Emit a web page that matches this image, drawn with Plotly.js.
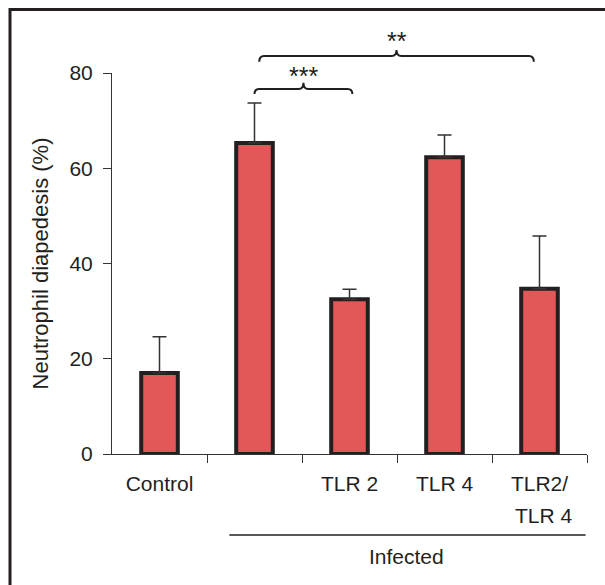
<!DOCTYPE html>
<html>
<head>
<meta charset="utf-8">
<script src="https://cdn.plot.ly/plotly-3.0.1.min.js"></script>
<style>html,body{margin:0;padding:0;background:#fff;}</style>
</head>
<body>
<div id="chart" style="width:605px;height:585px;"></div>
<script>
// ---- data ----
var categories = [0, 1, 2, 3, 4];
var tickLabels = ["Control", "", "TLR 2", "TLR 4", "TLR2/"];
var secondLineLabels = ["", "", "", "", "TLR 4"];
var diapedesis = [17.0, 65.3, 32.5, 62.3, 34.7];
var errorUp = [7.6, 8.4, 2.1, 4.7, 11.1];
var boundaryTicks = [0.5, 1.5, 2.5, 3.5, 4.5];
var yTicks = [0, 20, 40, 60, 80];
var groupLabel = "Infected";
var sigLabels = ["***", "**"];
var sigPairs = [[1, 2.03], [1.05, 3.94]];

var FONT = "Liberation Sans, Arial, Helvetica, sans-serif";
var DARK = "#231f20";
var FS = 21;

var trace = {
  type: "bar",
  x: categories,
  y: diapedesis,
  width: 0.385,
  marker: {color: "#e25858", line: {color: DARK, width: 4}},
  error_y: {type: "data", symmetric: false, array: errorUp,
            arrayminus: errorUp.map(function(){return 0;}),
            color: "#333333", thickness: 1.5, width: 7},
  hoverinfo: "none"
};

// paper y for pixel helpers (plot area top 73, bottom 454)
function py(p){ return (454 - p) / 381; }

function bracket(x0, x1, yh, ye, yp){
  var xm = (x0 + x1) / 2, d = 0.05;
  return "M" + x0 + "," + ye +
    " Q" + x0 + "," + yh + " " + (x0 + d) + "," + yh +
    " L" + (xm - d) + "," + yh +
    " Q" + xm + "," + yh + " " + xm + "," + yp +
    " Q" + xm + "," + yh + " " + (xm + d) + "," + yh +
    " L" + (x1 - d) + "," + yh +
    " Q" + x1 + "," + yh + " " + x1 + "," + ye;
}

var bracketY = [[89, 94, 82.7, 76], [56, 61.7, 50, 41]];

var shapes = [
  {type: "rect", xref: "paper", yref: "paper", x0: (10 - 112) / 475, x1: 1.2,
   y0: -0.6, y1: py(9.5), line: {color: DARK, width: 3}},
  {type: "line", xref: "paper", yref: "paper", x0: 0.247, x1: 0.997,
   y0: py(535), y1: py(535), line: {color: DARK, width: 1.3}}
];
var annotations = [];
sigPairs.forEach(function(p, i){
  var b = bracketY[i];
  shapes.push({type: "path", xref: "x", yref: "paper",
    path: bracket(p[0], p[1], py(b[0]), py(b[1]), py(b[2])),
    line: {color: DARK, width: 2}});
  annotations.push({xref: "x", yref: "paper", x: (p[0] + p[1]) / 2, y: py(b[3]),
    text: sigLabels[i], showarrow: false, yanchor: "middle",
    font: {family: FONT, size: 25, color: DARK}});
});
secondLineLabels.forEach(function(t, i){
  if (!t) return;
  annotations.push({xref: "x", yref: "paper", x: categories[i], y: py(515),
    xshift: 4, text: t, showarrow: false, yanchor: "middle",
    font: {family: FONT, size: FS, color: DARK}});
});
annotations.push({xref: "paper", yref: "paper", x: 0.621, y: py(556),
  text: groupLabel, showarrow: false, yanchor: "middle",
  font: {family: FONT, size: FS, color: DARK}});

var layout = {
  width: 605, height: 585,
  margin: {l: 112, r: 18, t: 73, b: 131},
  paper_bgcolor: "#fff", plot_bgcolor: "#fff",
  showlegend: false,
  font: {family: FONT, size: FS, color: DARK},
  xaxis: {range: [-0.5, 4.5], tickvals: boundaryTicks, ticktext: boundaryTicks.map(function(){return "";}),
          ticks: "outside", ticklen: 8, tickwidth: 1, tickcolor: "#333",
          showline: true, linecolor: "#333", linewidth: 1,
          showgrid: false, zeroline: false, fixedrange: true},
  xaxis2: {overlaying: "x", anchor: "y", side: "bottom", range: [-0.5, 4.5],
           tickvals: categories, ticktext: tickLabels, ticks: "",
           ticklabelstandoff: 15,
           showline: false, showgrid: false, zeroline: false,
           tickfont: {family: FONT, size: FS, color: DARK}},
  yaxis: {range: [0, 80], tickvals: yTicks, ticks: "outside", ticklen: 8, tickwidth: 1,
          tickcolor: "#333", showline: true, linecolor: "#333", linewidth: 1,
          showgrid: false, zeroline: false, fixedrange: true,
          ticklabelstandoff: 6,
          tickfont: {family: FONT, size: FS, color: DARK},
          title: {text: "Neutrophil diapedesis (%)", font: {family: FONT, size: 22, color: DARK}, standoff: 14}},
  shapes: shapes,
  annotations: annotations
};

var dummy = {type: "scatter", x: [0], y: [0], xaxis: "x2", mode: "none", hoverinfo: "none"};

Plotly.newPlot("chart", [trace, dummy], layout, {staticPlot: true});
</script>
</body>
</html>
